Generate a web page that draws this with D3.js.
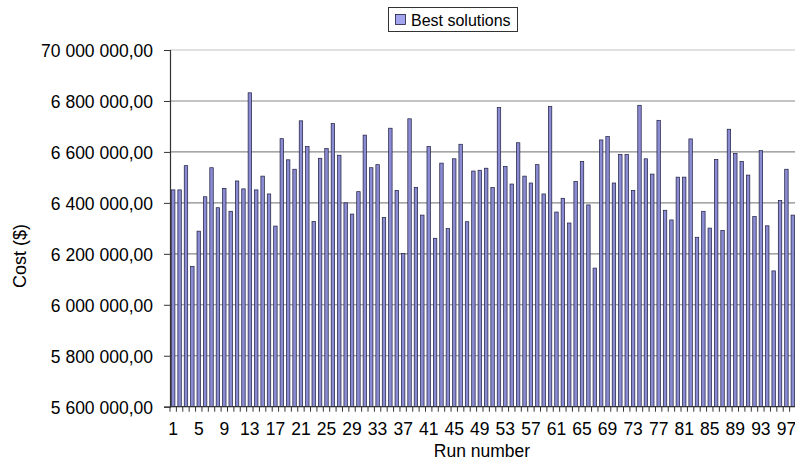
<!DOCTYPE html>
<html>
<head>
<meta charset="utf-8">
<script src="https://cdn.jsdelivr.net/npm/d3@7"></script>
<style>
  html, body { margin: 0; padding: 0; background: #fff; }
  svg { display: block; }
  text { font-family: "Liberation Sans", Arial, Helvetica, sans-serif; fill: #000; }
</style>
</head>
<body>
<svg id="chart" width="795" height="462"></svg>
<script>
// ---- data ----
const runNumbers = d3.range(1, 99);
const bestCost = [
  6451000, 6451000, 6546000, 6151000, 6289000, 6424000, 6538000, 6381000, 6457000, 6367000,
  6486000, 6455000, 6832000, 6451000, 6505000, 6435000, 6309000, 6652000, 6569000, 6532000,
  6722000, 6621000, 6327000, 6575000, 6613000, 6711000, 6587000, 6400000, 6356000, 6444000,
  6666000, 6538000, 6550000, 6342000, 6693000, 6449000, 6201000, 6730000, 6460000, 6352000,
  6621000, 6261000, 6556000, 6299000, 6573000, 6630000, 6326000, 6525000, 6528000, 6536000,
  6460000, 6774000, 6543000, 6474000, 6636000, 6505000, 6478000, 6550000, 6435000, 6778000,
  6364000, 6418000, 6321000, 6484000, 6563000, 6392000, 6144000, 6647000, 6660000, 6478000,
  6590000, 6590000, 6449000, 6783000, 6573000, 6513000, 6724000, 6371000, 6333000, 6501000,
  6501000, 6651000, 6265000, 6367000, 6301000, 6570000, 6292000, 6689000, 6594000, 6563000,
  6509000, 6346000, 6605000, 6310000, 6133000, 6409000, 6532000, 6352000
];
const yTickValues = [5600000, 5800000, 6000000, 6200000, 6400000, 6600000, 6800000, 7000000];
const yTickLabels = ["5 600 000,00", "5 800 000,00", "6 000 000,00", "6 200 000,00",
                     "6 400 000,00", "6 600 000,00", "6 800 000,00", "70 000 000,00"];
const xTickLabels = d3.range(1, 99, 4); // 1, 5, 9, ... 97
const seriesName = "Best solutions";
const yTitle = "Cost ($)";
const xTitle = "Run number";

// ---- layout ----
const svg = d3.select("#chart");
const plotLeft = 170, plotRight = 796, plotTop = 50, plotBottom = 406.7;

const x = d3.scaleBand().domain(runNumbers).range([plotLeft, plotRight])
  .paddingInner(0.46).paddingOuter(0.23);
const y = d3.scaleLinear().domain([5600000, 7000000]).range([plotBottom, plotTop]);

// gridlines
svg.append("g").selectAll("line").data(yTickValues.slice(1)).join("line")
  .attr("x1", plotLeft).attr("x2", 795)
  .attr("y1", d => y(d)).attr("y2", d => y(d))
  .attr("stroke", d => d === 7000000 ? "#c4c4c4" : "#8a8a8a")
  .attr("stroke-width", 1.1);

// bars
svg.append("g").selectAll("rect").data(bestCost).join("rect")
  .attr("x", (d, i) => x(runNumbers[i]))
  .attr("width", x.bandwidth())
  .attr("y", d => y(d))
  .attr("height", d => y(5600000) - y(d))
  .attr("fill", "#8b8bd2")
  .attr("stroke", "#1c1c40")
  .attr("stroke-width", 0.7);

// y axis
const yAxis = d3.axisLeft(y).tickValues(yTickValues)
  .tickFormat((d, i) => yTickLabels[i]).tickSize(6).tickPadding(11);
const gy = svg.append("g").attr("transform", `translate(${plotLeft},0)`).call(yAxis);
gy.select(".domain").attr("stroke", "#333").attr("stroke-width", 1.2);
gy.selectAll(".tick line").attr("stroke", "#333");
gy.selectAll("text").style("font-size", "17.5px").attr("dy", "0.36em");

// x axis: ticks at every category boundary
const gx = svg.append("g");
gx.append("line").attr("x1", plotLeft).attr("x2", 795).attr("y1", plotBottom).attr("y2", plotBottom)
  .attr("stroke", "#333").attr("stroke-width", 1.2);
gx.selectAll("line.tk").data(runNumbers).join("line").attr("class", "tk")
  .attr("x1", d => x(d) - x.step() * x.paddingInner() / 2)
  .attr("x2", d => x(d) - x.step() * x.paddingInner() / 2)
  .attr("y1", plotBottom).attr("y2", plotBottom + 5)
  .attr("stroke", "#333").attr("stroke-width", 1);
gx.selectAll("text").data(xTickLabels).join("text")
  .attr("x", d => x(d) + x.bandwidth() / 2)
  .attr("y", 435)
  .attr("text-anchor", "middle")
  .style("font-size", "17.5px")
  .text(d => d);

// axis titles
svg.append("text").attr("x", 482).attr("y", 457).attr("text-anchor", "middle")
  .style("font-size", "17.5px").text(xTitle);
svg.append("text").attr("transform", "translate(26,256) rotate(-90)")
  .attr("text-anchor", "middle").style("font-size", "18px").text(yTitle);

// legend
const lg = svg.append("g");
lg.append("rect").attr("x", 388.5).attr("y", 7.5).attr("width", 129).attr("height", 24)
  .attr("fill", "#fff").attr("stroke", "#333").attr("stroke-width", 1);
lg.append("rect").attr("x", 395.5).attr("y", 14.5).attr("width", 10).attr("height", 10)
  .attr("fill", "#a3a3ee").attr("stroke", "#1c1c40").attr("stroke-width", 0.8);
lg.append("text").attr("x", 411).attr("y", 25.5).style("font-size", "16px").text(seriesName);
</script>
</body>
</html>
